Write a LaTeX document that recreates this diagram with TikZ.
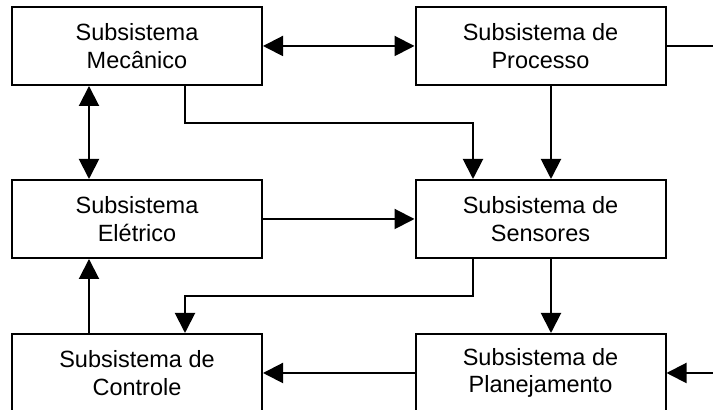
\documentclass[tikz,border=0pt]{standalone}
\usepackage{fontspec}
\setmainfont{Liberation Sans}
\usetikzlibrary{arrows.meta,positioning,calc}
\definecolor{ink}{HTML}{000000}

\begin{document}
\begin{tikzpicture}[x=0.5pt,y=0.5pt]
    \tikzset{
      block/.style={draw=ink,fill=white,line width=1pt,minimum width=125pt,minimum height=39pt,inner sep=0pt,align=center,font=\fontsize{11.75}{13.8}\selectfont},
      wire/.style={draw=ink,line width=1pt},
      arrow/.style={-{Triangle[length=10pt,width=10pt]},draw=ink,line width=1pt},
      twoway/.style={{Triangle[length=10pt,width=10pt]}-{Triangle[length=10pt,width=10pt]},draw=ink,line width=1pt}
    }
    \useasboundingbox (0,0) rectangle (713,410);
    \node[block] (mec) at (137,364) {Subsistema\\Mecânico};
    \node[block] (proc) at (540.5,364) {Subsistema de\\Processo};
    \node[block] (ele) at (137,191) {Subsistema\\Elétrico};
    \node[block] (sens) at (540.5,191) {Subsistema de\\Sensores};
    \node[block] (ctrl) at (137,37) {Subsistema de\\Controle};
    \node[block] (plan) at (540.5,37) {Subsistema de\\Planejamento};
    \coordinate (procout) at (740,364);
    \coordinate (planin) at (740,37);
    \coordinate (upper) at (0,287);
    \coordinate (lower) at (0,114);
    \draw[twoway] (mec) -- (proc);
    \draw[wire] (proc) -- (procout);
    \draw[arrow] ([xshift=24pt]mec.south) |- ([xshift=-33.75pt]sens.north |- upper) -- ([xshift=-33.75pt]sens.north);
    \draw[arrow] ([xshift=5.25pt]proc.south) -- ([xshift=5.25pt]sens.north);
    \draw[twoway] ([xshift=-24pt]mec.south) -- ([xshift=-24pt]ele.north);
    \draw[arrow] (ele) -- (sens);
    \draw[arrow] ([xshift=-33.75pt]sens.south) |- ([xshift=24pt]ctrl.north |- lower) -- ([xshift=24pt]ctrl.north);
    \draw[arrow] ([xshift=5.25pt]sens.south) -- ([xshift=5.25pt]plan.north);
    \draw[arrow] ([xshift=-24pt]ctrl.north) -- ([xshift=-24pt]ele.south);
    \draw[arrow] (plan) -- (ctrl);
    \draw[arrow] (planin) -- (plan);
  \end{tikzpicture}
\end{document}
